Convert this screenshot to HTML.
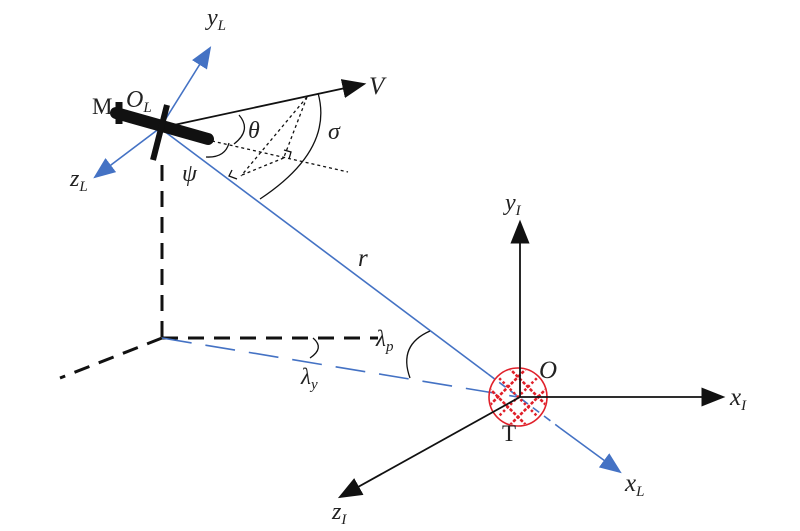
<!DOCTYPE html>
<html><head><style>body{margin:0;background:#fff}svg{display:block}
text{font-family:"Liberation Serif",serif;font-style:italic;fill:#222}</style></head>
<body>
<svg width="800" height="531" viewBox="0 0 800 531" xmlns="http://www.w3.org/2000/svg">
<defs>
<marker id="abB" viewBox="0 0 10 10" refX="9" refY="5" markerWidth="24" markerHeight="24" markerUnits="userSpaceOnUse" orient="auto"><path d="M0,1 L10,5 L0,9 z" fill="#111"/></marker>
<marker id="abl" viewBox="0 0 10 10" refX="9" refY="5" markerWidth="22" markerHeight="22" markerUnits="userSpaceOnUse" orient="auto"><path d="M0,1 L10,5 L0,9 z" fill="#4472c4"/></marker>
<clipPath id="cc"><circle cx="518" cy="397" r="28"/></clipPath>
</defs>
<g stroke="#111" stroke-width="3" fill="none" stroke-dasharray="16,10">
<line x1="162" y1="165" x2="162" y2="338"/>
<line x1="162" y1="338" x2="378" y2="338"/>
<line x1="162" y1="338" x2="60" y2="378"/>
</g>
<line x1="160" y1="128" x2="488" y2="374" stroke="#4472c4" stroke-width="1.6"/>
<line x1="488" y1="374" x2="560" y2="428" stroke="#4472c4" stroke-width="1.6" stroke-dasharray="8,6"/>
<line x1="560" y1="428" x2="620" y2="472" stroke="#4472c4" stroke-width="1.6" marker-end="url(#abl)"/>
<line x1="162" y1="338" x2="518" y2="397" stroke="#4472c4" stroke-width="1.6" stroke-dasharray="30,14"/>
<line x1="160" y1="128" x2="210" y2="48" stroke="#4472c4" stroke-width="1.6" marker-end="url(#abl)"/>
<line x1="160" y1="128" x2="95" y2="177" stroke="#4472c4" stroke-width="1.6" marker-end="url(#abl)"/>
<g clip-path="url(#cc)" stroke="#e0202a" stroke-width="2.5" stroke-dasharray="2.5,2.5">
<line x1="468" y1="367" x2="548" y2="447"/><line x1="488" y1="347" x2="568" y2="427"/><line x1="478" y1="357" x2="558" y2="437"/>
<line x1="478" y1="377" x2="538" y2="437"/><line x1="498" y1="357" x2="558" y2="417"/>
<line x1="568" y1="367" x2="488" y2="447"/><line x1="548" y1="347" x2="468" y2="427"/><line x1="558" y1="357" x2="478" y2="437"/>
<line x1="558" y1="377" x2="498" y2="437"/><line x1="538" y1="357" x2="478" y2="417"/>
</g>
<circle cx="518" cy="397" r="29" fill="none" stroke="#e0202a" stroke-width="1.6"/>
<g stroke="#111" stroke-width="1.8">
<line x1="520" y1="397" x2="520" y2="222" marker-end="url(#abB)"/>
<line x1="520" y1="397" x2="723" y2="397" marker-end="url(#abB)"/>
<line x1="520" y1="397" x2="340" y2="497" marker-end="url(#abB)"/>
<line x1="160" y1="128" x2="364" y2="84" marker-end="url(#abB)"/>
</g>
<g stroke="#111" stroke-width="1.3" stroke-dasharray="3,3" fill="none">
<line x1="212" y1="141" x2="348" y2="172"/>
<line x1="307" y1="97" x2="241" y2="176"/>
<line x1="307" y1="97" x2="284" y2="157"/>
<line x1="242" y1="175" x2="286" y2="157"/>
</g>
<g stroke="#111" stroke-width="1.3" fill="none">
<path d="M284,150 l7,2 l-2,7"/>
<path d="M232,170 l-3,6 l8,3"/>
<path d="M318,93 Q334,150 260,199"/>
<path d="M239,115 Q252,130 234,144"/>
<path d="M229,143 Q225,158 206,157"/>
<path d="M430,331 Q398,345 410,378"/>
<path d="M313,338 Q325,348 310,358"/>
</g>
<line x1="116" y1="113" x2="208" y2="139" stroke="#111" stroke-width="12" stroke-linecap="round"/>
<line x1="119" y1="102" x2="119" y2="124" stroke="#111" stroke-width="7"/>
<line x1="167" y1="105" x2="153" y2="160" stroke="#111" stroke-width="6"/>
<text x="207" y="25" font-size="24">y<tspan font-size="15" dy="5">L</tspan></text>
<text x="126" y="107" font-size="24">O<tspan font-size="15" dy="5">L</tspan></text>
<text x="92" y="114" font-size="23" style="font-style:normal">M</text>
<text x="70" y="186" font-size="24">z<tspan font-size="15" dy="5">L</tspan></text>
<text x="369" y="94" font-size="25">V</text>
<text x="248" y="138" font-size="24">θ</text>
<text x="328" y="139" font-size="24">σ</text>
<text x="182" y="181" font-size="24">ψ</text>
<text x="358" y="266" font-size="25">r</text>
<text x="376" y="346" font-size="23">λ<tspan font-size="15" dy="5">p</tspan></text>
<text x="301" y="384" font-size="23">λ<tspan font-size="15" dy="5">y</tspan></text>
<text x="505" y="210" font-size="24">y<tspan font-size="15" dy="5">I</tspan></text>
<text x="539" y="378" font-size="25">O</text>
<text x="730" y="405" font-size="25">x<tspan font-size="15" dy="5">I</tspan></text>
<text x="502" y="441" font-size="23" style="font-style:normal">T</text>
<text x="625" y="491" font-size="25">x<tspan font-size="15" dy="5">L</tspan></text>
<text x="332" y="519" font-size="24">z<tspan font-size="15" dy="5">I</tspan></text>
</svg>
</body></html>
